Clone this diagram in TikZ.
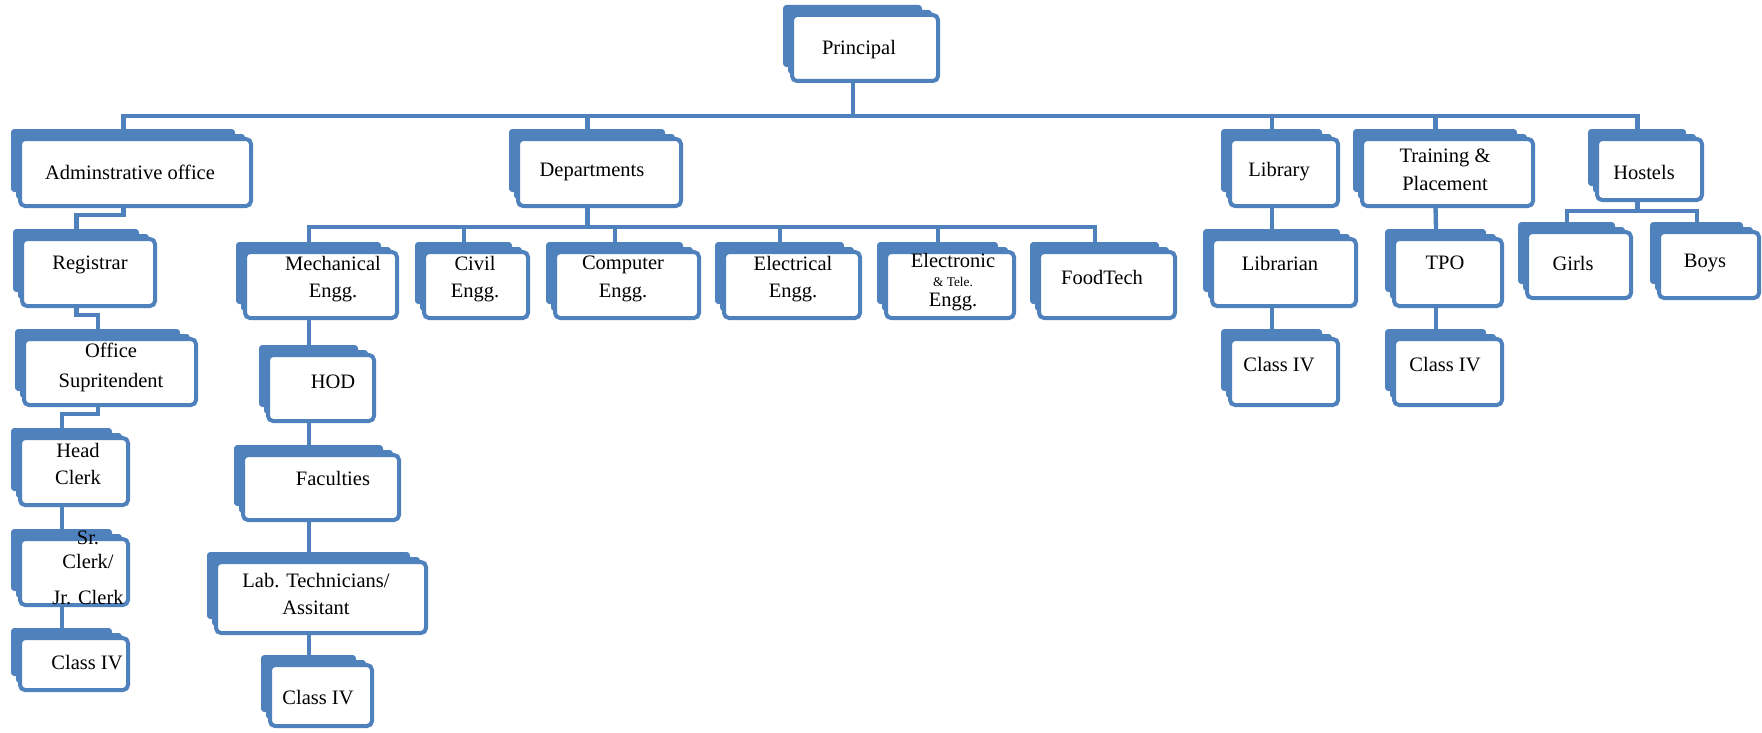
\documentclass[tikz,border=0pt]{standalone}
\usepackage{fontspec}
\setmainfont{Liberation Serif}
\usetikzlibrary{calc,fit,backgrounds}
\definecolor{orgblue}{HTML}{4F81BD}

\begin{document}
\begin{tikzpicture}[x=0.6pt,y=-0.6pt,
    unit/.style={draw=orgblue,fill=white,line width=2.4pt,rounded corners=3pt,inner sep=0pt,outer sep=0pt},
    wire/.style={draw=orgblue,line width=2.6pt},
    tag/.style={align=center,inner sep=0pt,font=\fontsize{12.3}{16.5}\selectfont}]
  \useasboundingbox (0,0) rectangle (1762,733);

  % top level
  \node[unit,fit={(792,15) (938,81)}]    (prin)   {};
  \node[unit,fit={(20,139) (251,206)}]   (admin)  {};
  \node[unit,fit={(518,139) (681,206)}]  (dept)   {};
  \node[unit,fit={(1230,139) (1338,206)}] (lib)   {};
  \node[unit,fit={(1362,139) (1533,206)}] (train) {};
  \node[unit,fit={(1597,139) (1702,200)}] (hostel) {};

  % departments
  \node[unit,fit={(245,252) (397,318)}]   (mech)  {};
  \node[unit,fit={(424,252) (528,318)}]   (civil) {};
  \node[unit,fit={(555,252) (699,318)}]   (comp)  {};
  \node[unit,fit={(724,252) (860,318)}]   (elec)  {};
  \node[unit,fit={(886,252) (1014,318)}]  (entc)  {};
  \node[unit,fit={(1039,252) (1175,318)}] (food)  {};
  \node[unit,fit={(268,355) (374,421)}]   (hod)   {};
  \node[unit,fit={(243,455) (399,520)}]   (fac)   {};
  \node[unit,fit={(216,562) (426,633)}]   (lab)   {};
  \node[unit,fit={(270,665) (372,726)}]   (cls4m) {};

  % office
  \node[unit,fit={(22,239) (155,306)}]    (reg)    {};
  \node[unit,fit={(24,339) (196,405)}]    (office) {};
  \node[unit,fit={(20,438) (128,505)}]    (head)   {};
  \node[unit,fit={(20,539) (128,605)}]    (clerk)  {};
  \node[unit,fit={(20,638) (128,690)}]    (cls4a)  {};

  % library, T&P, hostels
  \node[unit,fit={(1212,239) (1356,306)}] (libr)  {};
  \node[unit,fit={(1230,339) (1338,405)}] (cls4l) {};
  \node[unit,fit={(1394,239) (1502,306)}] (tpo)   {};
  \node[unit,fit={(1394,339) (1502,405)}] (cls4t) {};
  \node[unit,fit={(1527,232) (1631,298)}] (girls) {};
  \node[unit,fit={(1659,232) (1759,298)}] (boys)  {};

  % stacked backs
  \begin{scope}[on background layer]
    \foreach \n in {prin,admin,dept,lib,train,hostel,mech,civil,comp,elec,entc,food,hod,fac,lab,cls4m,reg,office,head,clerk,cls4a,libr,cls4l,tpo,cls4t,girls,boys}{
      \fill[orgblue,rounded corners=2pt] ($(\n.north west)+(-9,-10)$) rectangle ($(\n.south east)+(-16,-14)$);
      \fill[orgblue,rounded corners=2pt] ($(\n.north west)+(-4,-5)$) rectangle ($(\n.south east)+(-6,-7)$);
    }
  \end{scope}

  % connectors
  \coordinate (bus)  at ($(prin.south)+(-12,35)$);
  \coordinate (dbus) at ($(dept.south)+(-12,21)$);
  \coordinate (hbus) at ($(hostel.south)+(-12,11)$);
  \draw[wire] ($(prin.south)+(-12,0)$) -- (bus);
  \draw[wire] ($(dept.south)+(-12,0)$) -- (dbus);
  \draw[wire] ($(hostel.south)+(-12,0)$) -- (hbus);
  \foreach \n in {admin,dept,lib,train,hostel}
    \draw[wire] (bus) -| ($(\n.north)+(-12,-10)$);
  \foreach \n in {mech,civil,comp,elec,entc,food}
    \draw[wire] (dbus) -| ($(\n.north)+(-12,-10)$);
  \foreach \n in {girls,boys}
    \draw[wire] (hbus) -| ($(\n.north)+(-12,-10)$);
  \foreach \a/\b in {mech/hod,hod/fac,fac/lab,lab/cls4m,lib/libr,libr/cls4l,train/tpo,tpo/cls4t,head/clerk,clerk/cls4a}
    \draw[wire] ($(\a.south)+(-12,0)$) -- ($(\b.north)+(-12,-10)$);
  \foreach \a/\b in {admin/reg,reg/office,office/head}
    \draw[wire] ($(\a.south)+(-12,0)$) -- ++(0,9) -| ($(\b.north)+(-12,-10)$);

  % texts
  \node[tag] (t-prin)   at (859,50)   {Principal};
  \node[tag] (t-admin)  at (130,172)  {Adminstrative office};
  \node[tag] (t-dept)   at (592,172)  {Departments};
  \node[tag] (t-lib)    at (1279,172) {Library};
  \node[tag] (t-train)  at (1445,170) {Training \&\\Placement};
  \node[tag] (t-hostel) at (1644,172) {Hostels};
  \node[tag] (t-mech)   at (333,279)  {Mechanical\\Engg.};
  \node[tag] (t-civil)  at (475,279)  {Civil\\Engg.};
  \node[tag] (t-comp)   at (623,279)  {Computer\\Engg.};
  \node[tag] (t-elec)   at (793,279)  {Electrical\\Engg.};
  \node[tag] (t-entc)   at (953,282)  {Electronic\\[-5pt]{\fontsize{8}{9}\selectfont\& Tele.}\\[-5pt]Engg.};
  \node[tag] (t-food)   at (1102,277) {FoodTech};
  \node[tag] (t-hod)    at (333,382)  {HOD};
  \node[tag] (t-fac)    at (333,478)  {Faculties};
  \node[tag] (t-lab)    at (316,594)  {Lab. Technicians/\\Assitant};
  \node[tag] (t-cls4m)  at (318,698)  {Class IV};
  \node[tag] (t-reg)    at (90,265)   {Registrar};
  \node[tag] (t-office) at (111,367)  {Office\\[1.5pt]Supritendent};
  \node[tag] (t-head)   at (78,464)   {Head\\Clerk};
  \node[tag] (t-clerk)  at (88,568)   {Sr.\\[-2pt]Clerk/\\[5pt]Jr. Clerk};
  \node[tag] (t-cls4a)  at (87,663)   {Class IV};
  \node[tag] (t-libr)   at (1280,263) {Librarian};
  \node[tag] (t-cls4l)  at (1279,365) {Class IV};
  \node[tag] (t-tpo)    at (1445,263) {TPO};
  \node[tag] (t-cls4t)  at (1445,365) {Class IV};
  \node[tag] (t-girls)  at (1573,263) {Girls};
  \node[tag] (t-boys)   at (1705,263) {Boys};
\end{tikzpicture}
\end{document}
